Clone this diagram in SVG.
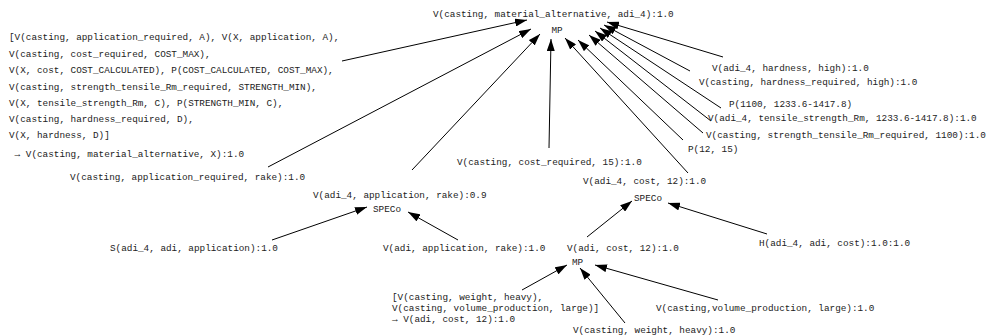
<svg xmlns="http://www.w3.org/2000/svg" width="994" height="336" viewBox="0 0 994 336">
  <style>
    text { font-family: "Liberation Mono", "DejaVu Sans Mono", monospace; font-size: 9.33px; fill: #222; }
    .op { text-anchor: middle; }
    .edge { stroke: #000; stroke-width: 1; fill: none; marker-end: url(#arrow); }
  </style>
  <defs>
    <marker id="arrow" markerUnits="userSpaceOnUse" markerWidth="12" markerHeight="8" refX="12" refY="4" orient="auto">
      <path d="M0,0 L12,4 L0,8 z" fill="#000"/>
    </marker>
  </defs>

  <!-- connectors -->
  <g id="edges">
    <!-- into top MP -->
    <line class="edge" x1="342" y1="61" x2="527" y2="20"/>
    <line class="edge" x1="268" y1="167" x2="531" y2="29"/>
    <line class="edge" x1="412" y1="170" x2="540" y2="34"/>
    <line class="edge" x1="549" y1="148" x2="551" y2="39"/>
    <line class="edge" x1="688" y1="173" x2="565" y2="38"/>
    <line class="edge" x1="683" y1="140" x2="578" y2="40"/>
    <line class="edge" x1="703" y1="133" x2="589" y2="35"/>
    <line class="edge" x1="711" y1="121" x2="595" y2="31"/>
    <line class="edge" x1="721" y1="108" x2="600" y2="28"/>
    <line class="edge" x1="690" y1="71" x2="604" y2="25"/>
    <line class="edge" x1="723" y1="57" x2="607" y2="22"/>
    <!-- into left SPECo -->
    <line class="edge" x1="272" y1="240" x2="367" y2="207"/>
    <line class="edge" x1="458" y1="240" x2="408" y2="212"/>
    <!-- into right SPECo -->
    <line class="edge" x1="587" y1="237" x2="632" y2="201"/>
    <line class="edge" x1="767" y1="234" x2="668" y2="203"/>
    <!-- into bottom MP -->
    <line class="edge" x1="522" y1="290" x2="567" y2="265"/>
    <line class="edge" x1="625" y1="323" x2="580" y2="268"/>
    <line class="edge" x1="718" y1="300" x2="595" y2="265"/>
  </g>

  <!-- top conclusion and MP step -->
  <g id="mp-top">
    <text x="433" y="17">V(casting, material_alternative, adi_4):1.0</text>
    <text class="op" x="557" y="33">MP</text>
  </g>

  <!-- selection rule -->
  <g id="rule-material">
    <text x="9" y="40">[V(casting, application_required, A), V(X, application, A),</text>
    <text x="9" y="57">V(casting, cost_required, COST_MAX),</text>
    <text x="9" y="73">V(X, cost, COST_CALCULATED), P(COST_CALCULATED, COST_MAX),</text>
    <text x="9" y="89.5">V(casting, strength_tensile_Rm_required, STRENGTH_MIN),</text>
    <text x="9" y="105.5">V(X, tensile_strength_Rm, C), P(STRENGTH_MIN, C),</text>
    <text x="9" y="121.5">V(casting, hardness_required, D),</text>
    <text x="9" y="138">V(X, hardness, D)]</text>
    <text x="9" y="156.5" xml:space="preserve"> → V(casting, material_alternative, X):1.0</text>
  </g>

  <g id="fact-app-required">
    <text x="70" y="180">V(casting, application_required, rake):1.0</text>
  </g>

  <g id="speco-application">
    <text x="313" y="197.5">V(adi_4, application, rake):0.9</text>
    <text x="373" y="212">SPECo</text>
  </g>

  <g id="fact-similarity">
    <text x="110" y="251">S(adi_4, adi, application):1.0</text>
  </g>

  <g id="fact-adi-application">
    <text x="383" y="251">V(adi, application, rake):1.0</text>
  </g>

  <g id="fact-cost-required">
    <text x="457" y="165">V(casting, cost_required, 15):1.0</text>
  </g>

  <g id="speco-cost">
    <text x="583" y="183.5">V(adi_4, cost, 12):1.0</text>
    <text x="634" y="201">SPECo</text>
  </g>

  <g id="mp-cost">
    <text x="567" y="251">V(adi, cost, 12):1.0</text>
    <text x="572" y="264.5">MP</text>
  </g>

  <g id="fact-heredity">
    <text x="759" y="246">H(adi_4, adi, cost):1.0:1.0</text>
  </g>

  <g id="rule-cost">
    <text x="392" y="300">[V(casting, weight, heavy),</text>
    <text x="392" y="311">V(casting, volume_production, large)]</text>
    <text x="392" y="322">→ V(adi, cost, 12):1.0</text>
  </g>

  <g id="fact-weight">
    <text x="573" y="332.5">V(casting, weight, heavy):1.0</text>
  </g>

  <g id="fact-volume">
    <text x="656" y="311">V(casting,volume_production, large):1.0</text>
  </g>

  <g id="fact-hardness">
    <text x="712" y="71">V(adi_4, hardness, high):1.0</text>
  </g>

  <g id="fact-hardness-required">
    <text x="699" y="85">V(casting, hardness_required, high):1.0</text>
  </g>

  <g id="cmp-strength">
    <text x="729" y="107">P(1100, 1233.6-1417.8)</text>
  </g>

  <g id="fact-strength">
    <text x="708" y="121">V(adi_4, tensile_strength_Rm, 1233.6-1417.8):1.0</text>
  </g>

  <g id="fact-strength-required">
    <text x="706" y="138">V(casting, strength_tensile_Rm_required, 1100):1.0</text>
  </g>

  <g id="cmp-cost">
    <text x="688" y="152">P(12, 15)</text>
  </g>
</svg>
